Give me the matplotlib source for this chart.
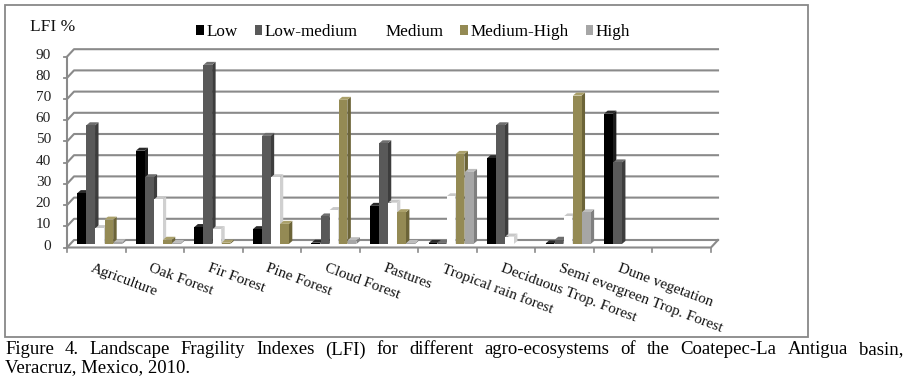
import matplotlib
matplotlib.use("Agg")
import matplotlib.pyplot as plt
from matplotlib.patches import Polygon, Rectangle, Patch
from matplotlib.lines import Line2D

plt.rcParams['font.family'] = ['Liberation Serif', 'DejaVu Serif']

categories = ["Agriculture", "Oak Forest", "Fir Forest", "Pine Forest", "Cloud Forest",
              "Pastures", "Tropical rain forest", "Deciduous Trop. Forest",
              "Semi evergreen Trop. Forest", "Dune vegetation", ""]
series = ["Low", "Low-medium", "Medium", "Medium-High", "High"]
low        = [24, 44, 8, 7, 0.6, 18, 0.5, 40.5, 0.3, 61.5, 0]
low_medium = [56, 31.5, 84.5, 51, 13, 47.5, 0.5, 56, 2, 38.5, 0]
medium     = [7.5, 21, 7, 31.5, 16, 19.5, 22.5, 3.5, 13, 0, 0]
medium_high = [11.5, 2, 0.6, 9.5, 68, 15, 42.5, 0, 70, 0, 0]
high       = [0.8, 0.5, 0, 0, 1.8, 0.5, 34, 0, 15, 0, 0]
values = [low, low_medium, medium, medium_high, high]
yticks = [0, 10, 20, 30, 40, 50, 60, 70, 80, 90]

front_c = ["#000000", "#595959", "#ffffff", "#948a54", "#a6a6a6"]
side_c  = ["#1c1c1c", "#3d3d3d", "#d0d0d0", "#6c6438", "#7f7f7f"]
top_c   = ["#2a2a2a", "#6e6e6e", "#c8c8c8", "#aaa06a", "#bdbdbd"]

W, H = 907, 384
fig = plt.figure(figsize=(W / 100, H / 100), dpi=100)
# axes geometry in pixels (bar plane)
ax_l, ax_r = 70.5, 714.5
base_y, top_y = 244.0, 244.0 - 190.8
ax = fig.add_axes([ax_l / W, 1 - base_y / H, (ax_r - ax_l) / W, (base_y - top_y) / H])
ncat = len(categories)
ax.set_xlim(-0.5, ncat - 0.5)
ax.set_ylim(0, 90)
ax.axis('off')
ppx = (ax_r - ax_l) / ncat
ppy = (base_y - top_y) / 90.0

def px(dx):
    return dx / ppx

def py(dy):
    return dy / ppy

gc = "#8a8a8a"
# front and back offsets
fdx, fdy = -3.5, -3.5
bdx, bdy = 3.5, 4.0
x0, x1 = -0.5, ncat - 0.5
for k in yticks:
    ax.add_line(Line2D([x0 + px(fdx), x0 + px(bdx), x1 + px(bdx)],
                       [k + py(fdy), k + py(bdy), k + py(bdy)],
                       color=gc, lw=1.5, clip_on=False, zorder=1))
    ax.add_line(Line2D([x0 + px(fdx - 3), x0 + px(fdx)], [k + py(fdy), k + py(fdy)],
                       color=gc, lw=1.3, clip_on=False, zorder=1))
    ax.text(x0 + px(fdx - 16), k + py(fdy + 1.5), str(k), ha='right', va='center',
            fontsize=11, color='#222222')
ax.add_line(Line2D([x0 + px(fdx)] * 2, [py(fdy), 90 + py(fdy)], color=gc, lw=1.5,
                   clip_on=False, zorder=1))
ax.add_line(Line2D([x0 + px(fdx), x1 + px(fdx), x1 + px(bdx)],
                   [py(fdy), py(fdy), py(bdy)], color=gc, lw=1.5, clip_on=False, zorder=1))
for i in range(ncat + 1):
    xb = -0.5 + i + px(fdx)
    ax.add_line(Line2D([xb, xb], [py(fdy), py(fdy - 4)], color=gc, lw=1.2,
                       clip_on=False, zorder=1))

# 3D-like bars
pitch = 0.155
bw = 0.148
sdx, sdy = px(3.5), py(3.0)
for j, vals in enumerate(values):
    xs = [i + (j - 2) * pitch for i in range(ncat)]
    for xc, v in zip(xs, vals):
        if v <= 0:
            continue
        xl, xr = xc - bw / 2, xc + bw / 2
        z = 3 + j * 0.01
        ax.add_patch(Polygon([(xr, 0), (xr + sdx, sdy), (xr + sdx, v + sdy), (xr, v)],
                             closed=True, facecolor=side_c[j], edgecolor='none', zorder=z))
        ax.add_patch(Polygon([(xl, v), (xl + sdx, v + sdy), (xr + sdx, v + sdy), (xr, v)],
                             closed=True, facecolor=top_c[j], edgecolor='none', zorder=z))
    ax.bar(xs, vals, width=bw, color=front_c[j], edgecolor='none', zorder=3 + j * 0.01 + 0.005)

# category labels (rotated), anchored at each category centre on the front edge
for i, name in enumerate(categories):
    if not name:
        continue
    ax.text(i + px(fdx - 3), py(-18), name, rotation=-20.5, rotation_mode='anchor',
            ha='left', va='top', fontsize=11, color='#111111', clip_on=False)

# axis title
fig.text(30 / W, 1 - 27 / H, "LFI %", ha='left', va='center', fontsize=12.5, color='#111111')

# legend
handles = [Patch(facecolor=front_c[j], edgecolor='none') for j in range(5)]
fig.legend(handles, series, loc='center left', bbox_to_anchor=(196 / W, 1 - 32 / H),
           ncol=5, frameon=False, fontsize=12.3, handlelength=0.45, handleheight=0.45,
           handletextpad=0.15, columnspacing=1.0, borderaxespad=0, borderpad=0)

# chart border
fig.add_artist(Rectangle((5 / W, 1 - 337 / H), 803 / W, 332 / H, transform=fig.transFigure,
                         fill=False, edgecolor='#888888', lw=1.3))

# caption (line 1 justified)
line1 = ("Figure 4. Landscape Fragility Indexes (LFI) for different agro-ecosystems "
         "of the Coatepec-La Antigua basin,").split()
line2 = "Veracruz, Mexico, 2010."
cap_fs = 13.5
renderer = fig.canvas.get_renderer()
texts = [fig.text(0, 1 - 350 / H, w, fontsize=cap_fs, ha='left', va='center') for w in line1]
widths = [t.get_window_extent(renderer).width for t in texts]
left, right = 5.0, 903.0
gap = (right - left - sum(widths)) / (len(texts) - 1)
xpos = left
for t, w in zip(texts, widths):
    t.set_x(xpos / W)
    xpos += w + gap
fig.text(left / W, 1 - 368 / H, line2, fontsize=cap_fs, ha='left', va='center')

fig.savefig("out.png", dpi=100, facecolor='white')
